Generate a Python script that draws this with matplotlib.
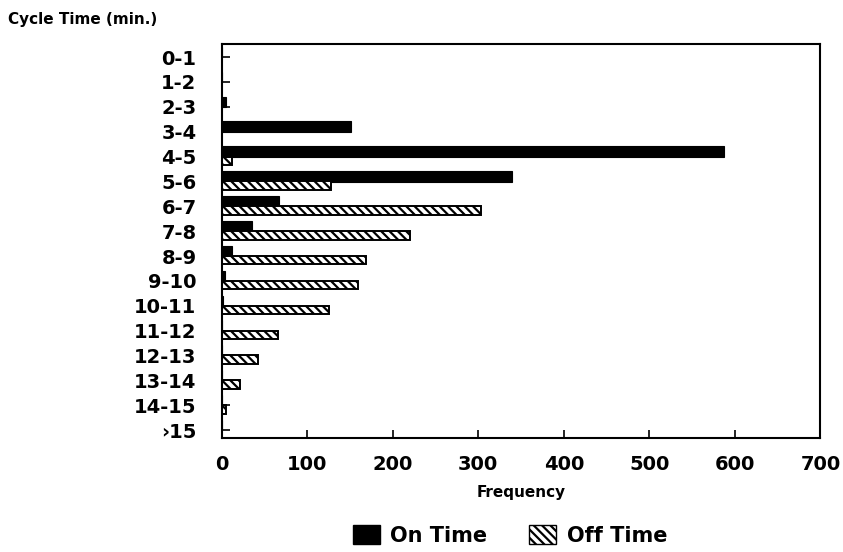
import matplotlib
matplotlib.use("Agg")
import matplotlib.pyplot as plt
from matplotlib.patches import Patch
import numpy as np

# Cycle time bins and observed frequencies
categories = ["0-1", "1-2", "2-3", "3-4", "4-5", "5-6", "6-7", "7-8",
              "8-9", "9-10", "10-11", "11-12", "12-13", "13-14", "14-15", "\u203a15"]
on_time = [0, 0, 5, 151, 587, 339, 67, 36, 12, 4, 2, 0, 0, 0, 0, 0]
off_time = [0, 0, 0, 0, 12, 128, 303, 220, 169, 160, 126, 66, 43, 21, 5, 0]
x_ticks = [0, 100, 200, 300, 400, 500, 600, 700]

plt.rcParams["font.family"] = ["DejaVu Sans"]
plt.rcParams["font.weight"] = "bold"
plt.rcParams["hatch.linewidth"] = 1.6
plt.rcParams["hatch.color"] = "black"

fig = plt.figure(figsize=(8.43, 5.52), dpi=100)
ax = fig.add_axes([0.2628, 0.2065, 0.7105, 0.7135])

y = np.arange(len(categories))
ax.barh(y - 0.2, on_time, height=0.42, color="black", edgecolor="black", linewidth=0.8)
ax.barh(y + 0.17, off_time, height=0.34, color="white", edgecolor="black",
        linewidth=1.4, hatch="\\\\\\\\")

ax.set_xlim(0, 700)
ax.set_ylim(15.32, -0.52)
ax.set_xticks(x_ticks)
ax.set_xticklabels([str(v) for v in x_ticks], fontsize=14, fontweight="bold")
ax.set_yticks(y)
ax.set_yticklabels(categories, fontsize=14, fontweight="bold")
ax.tick_params(axis="x", direction="in", length=6, width=1.2, pad=12)
ax.tick_params(axis="y", direction="in", length=6, width=1.2, pad=18)
for s in ax.spines.values():
    s.set_linewidth(1.5)

ax.set_xlabel("Frequency", fontsize=11, fontweight="bold", labelpad=8)
fig.text(0.01, 0.965, "Cycle Time (min.)", fontsize=11, fontweight="bold",
         ha="left", va="center")

handles = [Patch(facecolor="black", edgecolor="black", label="On Time"),
           Patch(facecolor="white", edgecolor="black", hatch="\\\\\\\\", label="Off Time")]
fig.legend(handles=handles, loc="center", bbox_to_anchor=(0.605, 0.03), ncol=2,
           frameon=False, prop={"size": 15, "weight": "bold"},
           handlelength=1.3, handleheight=1.0, columnspacing=2.0, handletextpad=0.5)

fig.savefig("out.png", dpi=100)
